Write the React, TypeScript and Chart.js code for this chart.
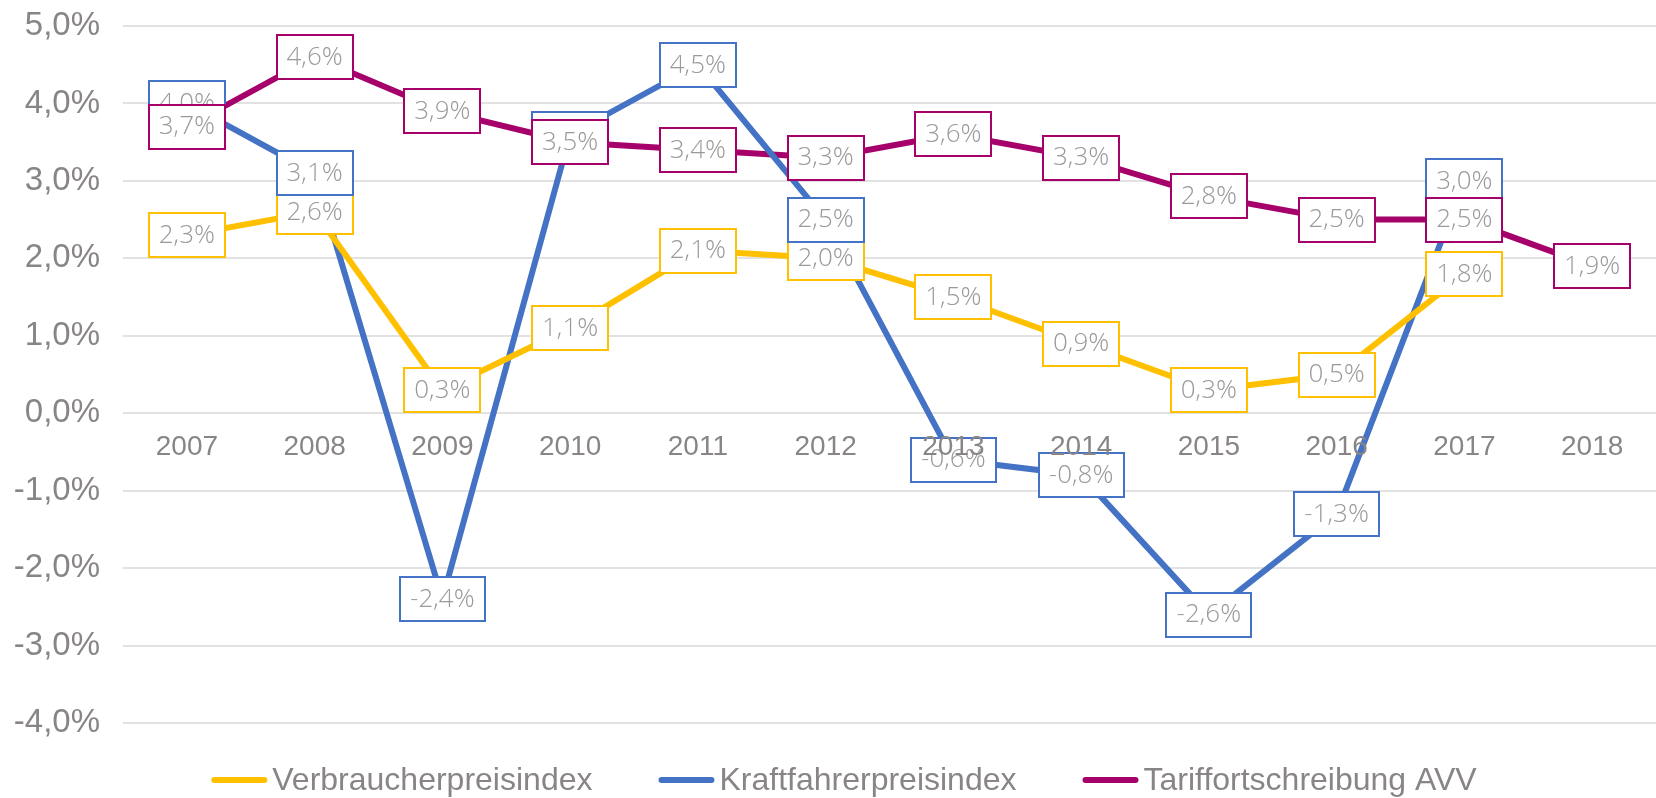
import React, { useEffect, useRef } from "react";
import { Chart, registerables } from "chart.js";

Chart.register(...registerables);

const years = ["2007", "2008", "2009", "2010", "2011", "2012", "2013", "2014", "2015", "2016", "2017", "2018"];
const verbraucher = [2.3, 2.6, 0.3, 1.1, 2.1, 2.0, 1.5, 0.9, 0.3, 0.5, 1.8, null];
const kraftfahrer = [4.0, 3.1, -2.4, 3.6, 4.5, 2.5, -0.6, -0.8, -2.6, -1.3, 3.0, null];
const tarif = [3.7, 4.6, 3.9, 3.5, 3.4, 3.3, 3.6, 3.3, 2.8, 2.5, 2.5, 1.9];
const seriesNames = ["Verbraucherpreisindex", "Kraftfahrerpreisindex", "Tariffortschreibung AVV"];
const seriesColors = ["#FFC000", "#4472C4", "#A6006B"];

const fmt = (v: number) => v.toFixed(1).replace(".", ",") + "%";

const TEXT_GRAY = "#898585";
const LABEL_GRAY = "#9a9a9a";

const boxLabels = {
  id: "boxLabels",
  afterDatasetsDraw(chart: any) {
    const ctx = chart.ctx;
    ctx.save();
    ctx.font = '300 26px "Open Sans Light", "Open Sans", sans-serif';
    ctx.textAlign = "center";
    ctx.textBaseline = "middle";
    chart.data.datasets.forEach((ds: any, i: number) => {
      const meta = chart.getDatasetMeta(i);
      meta.data.forEach((pt: any, j: number) => {
        const v = ds.data[j];
        if (v === null || v === undefined) return;
        const text = fmt(v);
        const w = Math.round(ctx.measureText(text).width + 20);
        const h = 44;
        const x = Math.round(pt.x - w / 2);
        const y = Math.round(pt.y - h / 2);
        ctx.fillStyle = "#ffffff";
        ctx.fillRect(x, y, w, h);
        ctx.strokeStyle = ds.borderColor;
        ctx.lineWidth = 2;
        ctx.strokeRect(x, y, w, h);
        ctx.fillStyle = LABEL_GRAY;
        ctx.fillText(text, pt.x, pt.y + 1);
      });
    });
    ctx.restore();
  },
};

const customLegend = {
  id: "customLegend",
  afterDraw(chart: any) {
    const ctx = chart.ctx;
    ctx.save();
    ctx.font = '32px "Liberation Sans", Arial, sans-serif';
    ctx.textBaseline = "middle";
    ctx.textAlign = "left";
    const lineW = 56;
    const gap = 5;
    const spacing = 66;
    const items = chart.data.datasets.map((ds: any) => ({
      text: ds.label,
      color: ds.borderColor,
      tw: ctx.measureText(ds.label).width,
    }));
    const total = items.reduce((s: number, it: any) => s + lineW + gap + it.tw, 0) + spacing * (items.length - 1);
    let x = chart.width / 2 + 16 - total / 2;
    const y = 780;
    items.forEach((it: any) => {
      ctx.strokeStyle = it.color;
      ctx.lineWidth = 6;
      ctx.lineCap = "round";
      ctx.beginPath();
      ctx.moveTo(x + 3, y);
      ctx.lineTo(x + lineW - 3, y);
      ctx.stroke();
      ctx.fillStyle = TEXT_GRAY;
      ctx.fillText(it.text, x + lineW + gap, y + 1);
      x += lineW + gap + it.tw + spacing;
    });
    ctx.restore();
  },
};

export default function App() {
  const ref = useRef<HTMLCanvasElement | null>(null);

  useEffect(() => {
    document.body.style.margin = "0";
    const canvas = ref.current;
    if (!canvas) return;
    const data = [verbraucher, kraftfahrer, tarif];
    const chart = new Chart(canvas, {
      type: "line",
      data: {
        labels: years,
        datasets: data.map((d, i) => ({
          label: seriesNames[i],
          data: d,
          borderColor: seriesColors[i],
          backgroundColor: seriesColors[i],
          borderWidth: 6,
          pointRadius: 0,
          pointHoverRadius: 0,
          tension: 0,
          fill: false,
          spanGaps: false,
        })),
      },
      options: {
        responsive: false,
        animation: false,
        devicePixelRatio: 1,
        layout: { padding: { top: 26, right: 0, bottom: 75, left: 0 } },
        plugins: {
          legend: { display: false },
          tooltip: { enabled: false },
        },
        scales: {
          x: {
            position: { y: 0 } as any,
            offset: true,
            grid: { display: false, drawTicks: false, offset: true },
            border: { display: false },
            ticks: {
              z: 1,
              color: TEXT_GRAY,
              font: { family: '"Liberation Sans", Arial, sans-serif', size: 28 },
              padding: 17,
              maxRotation: 0,
              autoSkip: false,
            },
          },
          y: {
            min: -4,
            max: 5,
            afterFit: (scale: any) => {
              scale.width = 123;
              scale.paddingTop = 0;
              scale.paddingBottom = 0;
            },
            grid: { color: "#e2e2e2", lineWidth: 2, drawTicks: false },
            border: { display: false },
            ticks: {
              stepSize: 1,
              color: TEXT_GRAY,
              font: { family: '"Liberation Sans", Arial, sans-serif', size: 33 },
              padding: 23,
              callback: (v: any) => fmt(Number(v)),
            },
          },
        },
      },
      plugins: [boxLabels, customLegend],
    });
    return () => chart.destroy();
  }, []);

  return (
    <div style={{ position: "absolute", left: 0, top: 0, width: 1656, height: 798, background: "#fff" }}>
      <canvas ref={ref} width={1656} height={798} />
    </div>
  );
}
